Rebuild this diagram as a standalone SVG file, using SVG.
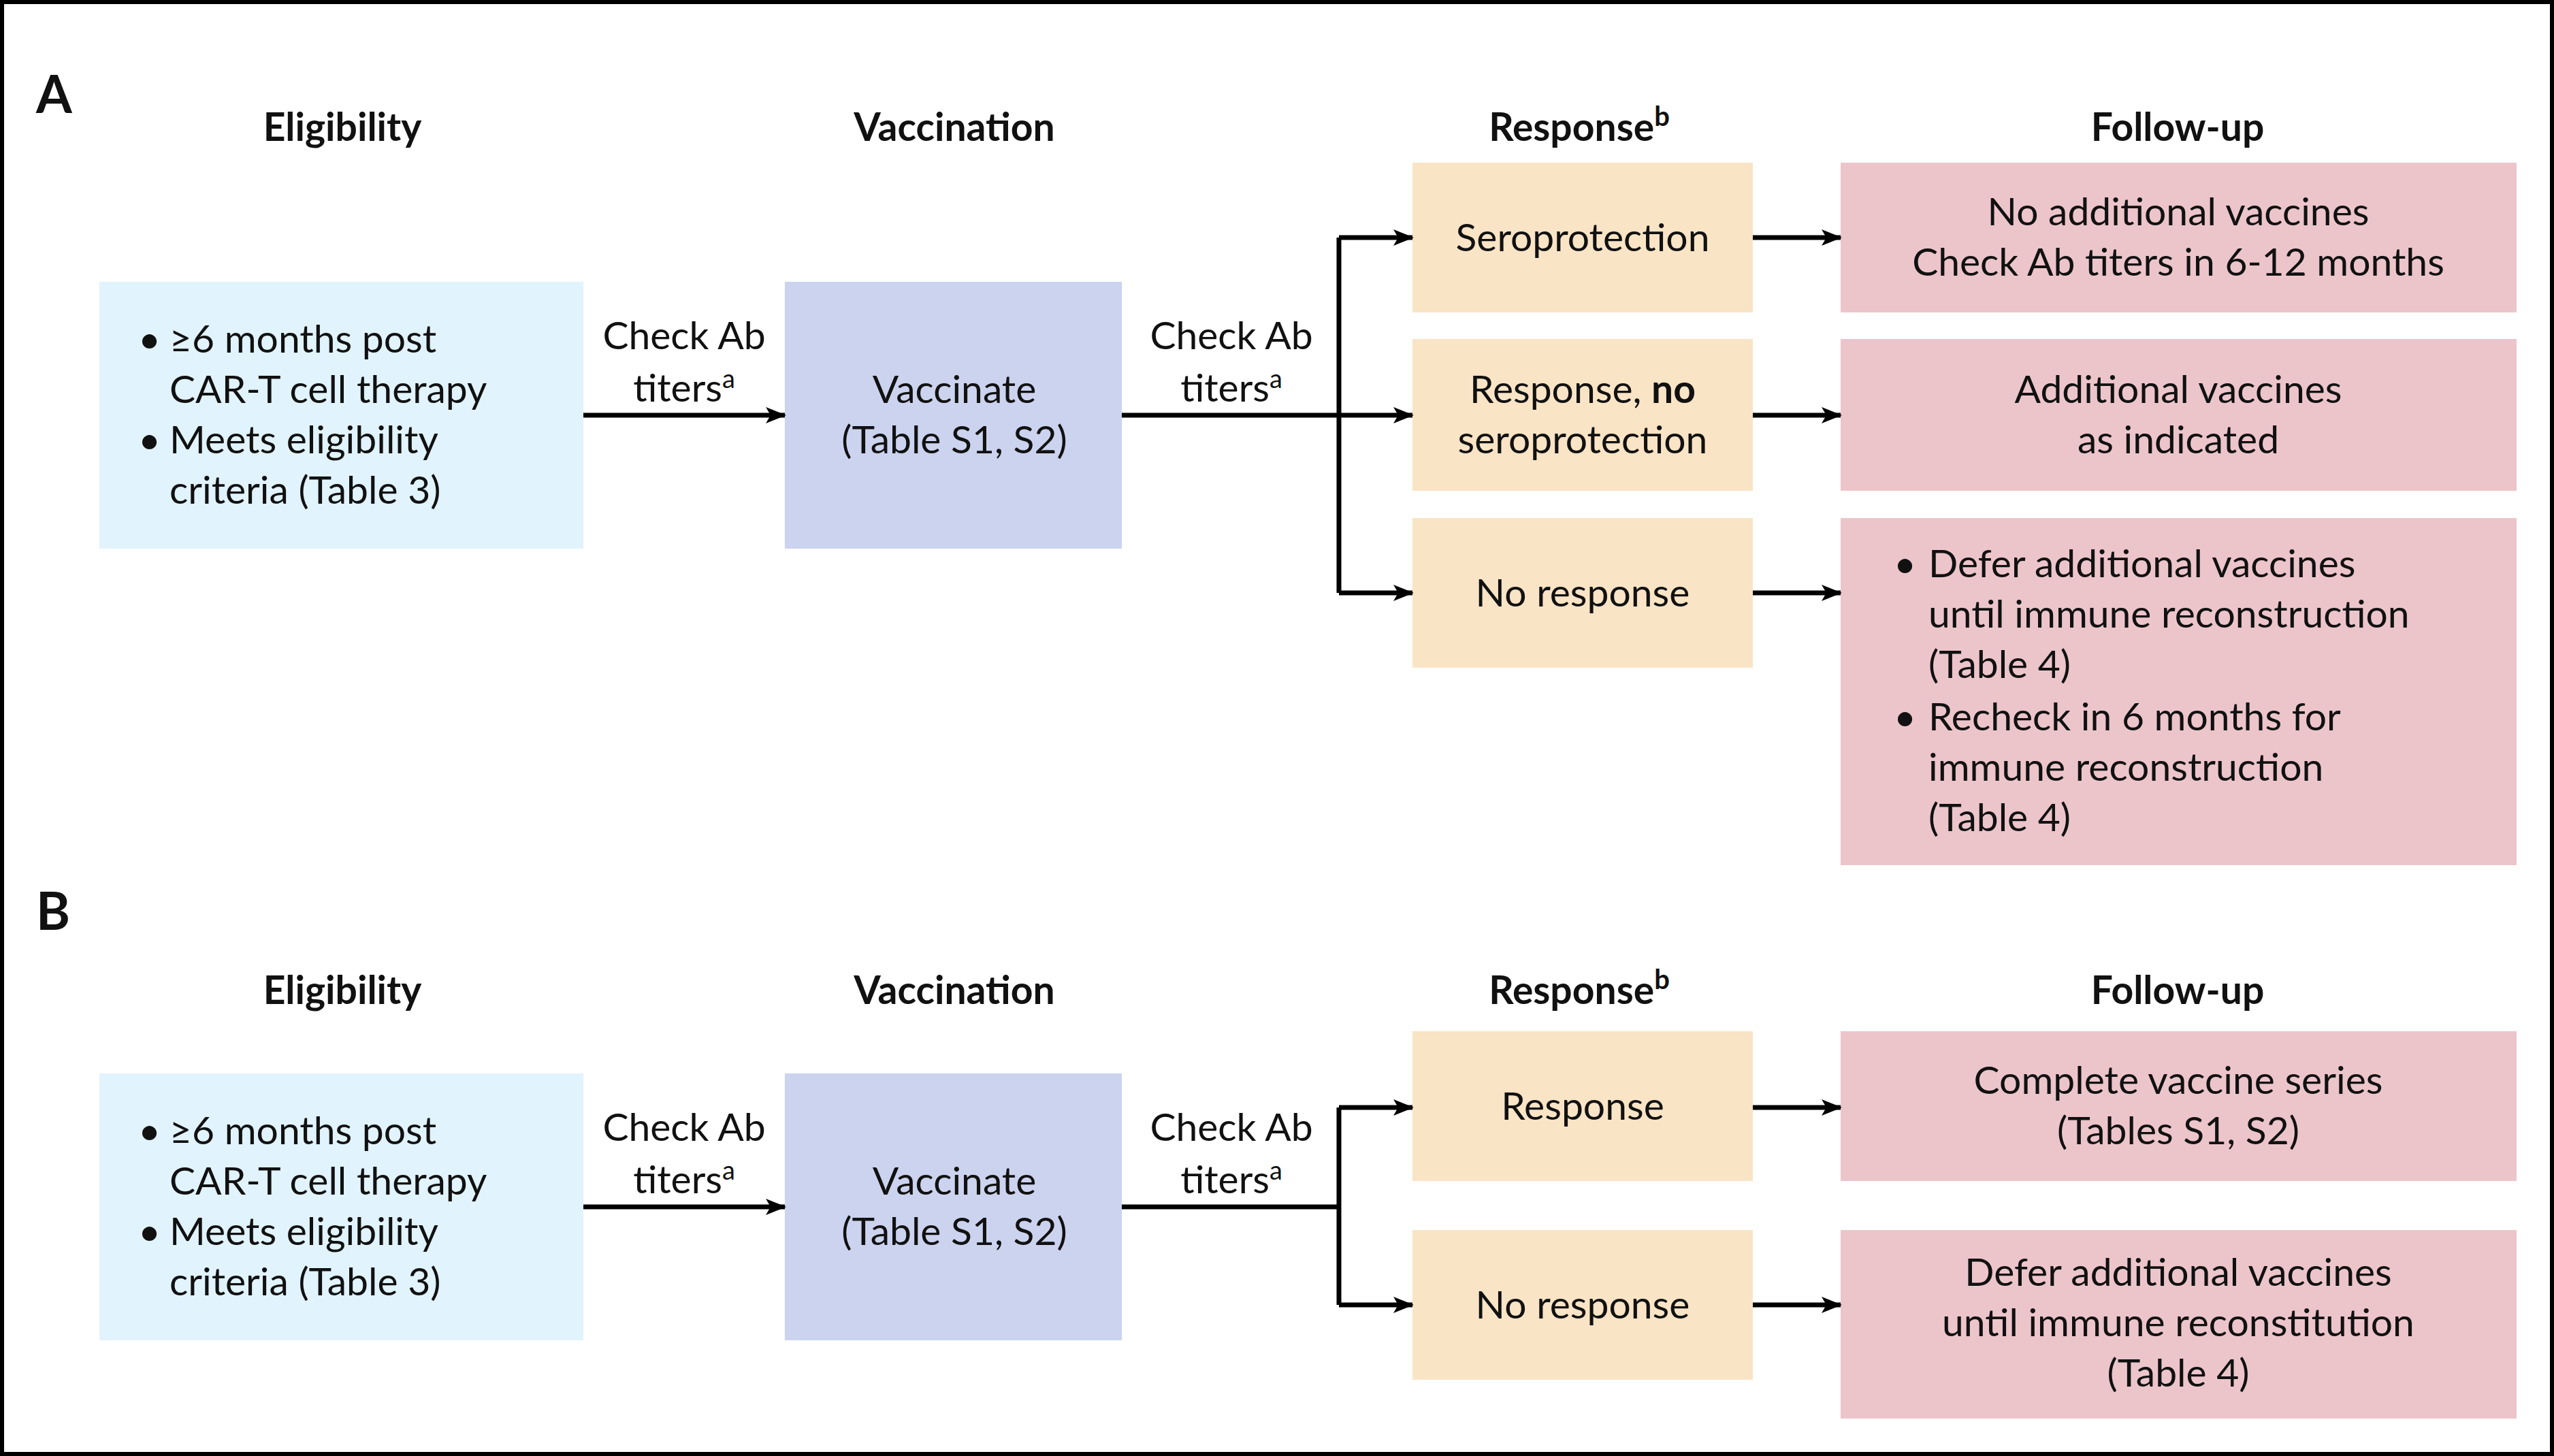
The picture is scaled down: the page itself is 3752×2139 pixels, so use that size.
<svg xmlns="http://www.w3.org/2000/svg" width="3752" height="2139" viewBox="0 0 3752 2139">
<defs>
<marker id="ah" markerWidth="10" markerHeight="10" refX="9" refY="5" orient="auto" markerUnits="userSpaceOnUse" viewBox="0 0 10 10" style="overflow:visible">
<path d="M0,0 L10,5 L0,10 L2.5,5 Z" fill="#000" transform="scale(4.5) translate(-8,-5) translate(8,5)"/>
</marker>
<style>
text{font-family:Lato,"Open Sans","Liberation Sans",sans-serif;font-size:57px;fill:#111}
.h{font-weight:bold;font-size:57px;text-anchor:middle}
.c{text-anchor:middle}
.big{font-weight:bold;font-size:76px}
.el{fill:#e1f3fd}.va{fill:#cbd3ee}.re{fill:#fae4c6}.fu{fill:#ecc5cb}
.ln{stroke:#000;stroke-width:7;fill:none}
.ar{stroke:#000;stroke-width:7;fill:none;marker-end:url(#a2)}
</style>
<marker id="a2" markerWidth="30" markerHeight="24" refX="28" refY="12" orient="auto" markerUnits="userSpaceOnUse">
<path d="M0,0 L30,12 L0,24 L7,12 Z" fill="#000"/>
</marker>
</defs>
<rect x="3" y="3" width="3746" height="2133" fill="#fff" stroke="#000" stroke-width="6"/>
<text x="53" y="166" class="big">A</text>
<text x="53" y="1366" class="big">B</text>
<g id="headersA">
<text x="503" y="207" class="h">Eligibility</text>
<text x="1402" y="207" class="h">Vaccination</text>
<text x="2320" y="207" class="h">Response<tspan dy="-22" font-size="40">b</tspan></text>
<text x="3199" y="207" class="h">Follow-up</text>
</g>
<g id="headersB">
<text x="503" y="1475" class="h">Eligibility</text>
<text x="1402" y="1475" class="h">Vaccination</text>
<text x="2320" y="1475" class="h">Response<tspan dy="-22" font-size="40">b</tspan></text>
<text x="3199" y="1475" class="h">Follow-up</text>
</g>
<g id="A_elig"><rect class="el" x="146" y="414" width="711" height="392"/>
<text x="203" y="518">• <tspan x="249">≥6 months post</tspan></text>
<text x="249" y="592">CAR-T cell therapy</text>
<text x="203" y="666">• <tspan x="249">Meets eligibility</tspan></text>
<text x="249" y="740">criteria (Table 3)</text></g>
<g id="A_vacc"><rect class="va" x="1153" y="414" width="495" height="392"/>
<text x="1402" y="592" class="c">Vaccinate</text><text x="1402" y="666" class="c">(Table S1, S2)</text></g>
<g id="A_r1"><rect class="re" x="2075" y="239" width="500" height="220"/><text x="2325" y="369" class="c">Seroprotection</text></g>
<g id="A_r2"><rect class="re" x="2075" y="498" width="500" height="223"/><text x="2325" y="592" class="c">Response, <tspan font-weight="bold">no</tspan></text><text x="2325" y="666" class="c">seroprotection</text></g>
<g id="A_r3"><rect class="re" x="2075" y="761" width="500" height="220"/><text x="2325" y="891" class="c">No response</text></g>
<g id="A_f1"><rect class="fu" x="2704" y="239" width="993" height="220"/><text x="3200" y="331" class="c">No additional vaccines</text><text x="3200" y="405" class="c">Check Ab titers in 6-12 months</text></g>
<g id="A_f2"><rect class="fu" x="2704" y="498" width="993" height="223"/><text x="3200" y="592" class="c">Additional vaccines</text><text x="3200" y="666" class="c">as indicated</text></g>
<g id="A_f3"><rect class="fu" x="2704" y="761" width="993" height="510"/>
<text x="2782" y="848">• <tspan x="2833">Defer additional vaccines</tspan></text>
<text x="2833" y="922">until immune reconstruction</text>
<text x="2833" y="996">(Table 4)</text>
<text x="2782" y="1073">• <tspan x="2833">Recheck in 6 months for</tspan></text>
<text x="2833" y="1147">immune reconstruction</text>
<text x="2833" y="1221">(Table 4)</text></g>
<g id="B_elig"><rect class="el" x="146" y="1577" width="711" height="392"/>
<text x="203" y="1681">• <tspan x="249">≥6 months post</tspan></text>
<text x="249" y="1755">CAR-T cell therapy</text>
<text x="203" y="1829">• <tspan x="249">Meets eligibility</tspan></text>
<text x="249" y="1903">criteria (Table 3)</text></g>
<g id="B_vacc"><rect class="va" x="1153" y="1577" width="495" height="392"/>
<text x="1402" y="1755" class="c">Vaccinate</text><text x="1402" y="1829" class="c">(Table S1, S2)</text></g>
<g id="B_r1"><rect class="re" x="2075" y="1515" width="500" height="220"/><text x="2325" y="1645" class="c">Response</text></g>
<g id="B_r2"><rect class="re" x="2075" y="1807" width="500" height="220"/><text x="2325" y="1937" class="c">No response</text></g>
<g id="B_f1"><rect class="fu" x="2704" y="1515" width="993" height="220"/><text x="3200" y="1607" class="c">Complete vaccine series</text><text x="3200" y="1681" class="c">(Tables S1, S2)</text></g>
<g id="B_f2"><rect class="fu" x="2704" y="1807" width="993" height="277"/><text x="3200" y="1889" class="c">Defer additional vaccines</text><text x="3200" y="1963" class="c">until immune reconstitution</text><text x="3200" y="2037" class="c">(Table 4)</text></g>
<g id="connectors">
<path class="ar" d="M857,610 H1153"/>
<path class="ln" d="M1648,610 H1967"/>
<path class="ln" d="M1967,349 V871"/>
<path class="ar" d="M1967,349 H2075"/><path class="ar" d="M1967,610 H2075"/><path class="ar" d="M1967,871 H2075"/>
<path class="ar" d="M2575,349 H2704"/><path class="ar" d="M2575,610 H2704"/><path class="ar" d="M2575,871 H2704"/>
<path class="ar" d="M857,1773 H1153"/>
<path class="ln" d="M1648,1773 H1967"/>
<path class="ln" d="M1967,1627 V1917"/>
<path class="ar" d="M1967,1627 H2075"/><path class="ar" d="M1967,1917 H2075"/>
<path class="ar" d="M2575,1627 H2704"/><path class="ar" d="M2575,1917 H2704"/>
<text x="1005" y="513" class="c">Check Ab</text><text x="1005" y="590" class="c">titers<tspan dy="-20" font-size="38">a</tspan></text>
<text x="1809" y="513" class="c">Check Ab</text><text x="1809" y="590" class="c">titers<tspan dy="-20" font-size="38">a</tspan></text>
<text x="1005" y="1676" class="c">Check Ab</text><text x="1005" y="1753" class="c">titers<tspan dy="-20" font-size="38">a</tspan></text>
<text x="1809" y="1676" class="c">Check Ab</text><text x="1809" y="1753" class="c">titers<tspan dy="-20" font-size="38">a</tspan></text>
</g>
</svg>
